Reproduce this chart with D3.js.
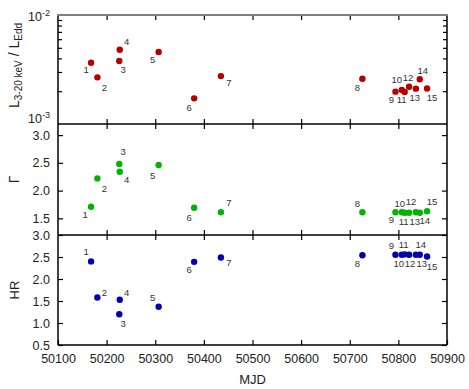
<!DOCTYPE html>
<html><head><meta charset="utf-8">
<script src="https://cdn.jsdelivr.net/npm/d3@7"></script>
<style>
html,body{margin:0;padding:0;background:#fff;}
svg{display:block;font-family:"Liberation Sans",Arial,sans-serif;}
</style></head>
<body>
<svg id="chart" width="469" height="389"></svg>
<script>
// ---- data ----
const pointIds = ["1","2","3","4","5","6","7","8","9","10","11","12","13","14","15"];
const mjd   = [50168, 50181, 50226, 50227, 50307, 50380, 50435, 50726, 50794, 50807, 50813, 50822, 50836, 50844, 50859];
const lum   = [3.65e-3, 2.68e-3, 3.79e-3, 4.80e-3, 4.58e-3, 1.72e-3, 2.75e-3, 2.60e-3, 1.98e-3, 2.05e-3, 1.97e-3, 2.20e-3, 2.11e-3, 2.57e-3, 2.12e-3];
const gamma = [1.71, 2.22, 2.48, 2.34, 2.46, 1.69, 1.61, 1.61, 1.61, 1.61, 1.60, 1.60, 1.61, 1.60, 1.63];
const hr    = [2.40, 1.58, 1.20, 1.53, 1.37, 2.39, 2.49, 2.54, 2.55, 2.55, 2.56, 2.55, 2.55, 2.55, 2.51];
const xTicks = [50100, 50200, 50300, 50400, 50500, 50600, 50700, 50800, 50900];
const lumMajor = [1e-3, 1e-2];
const lumMinor = [2e-3,3e-3,4e-3,5e-3,6e-3,7e-3,8e-3,9e-3];
const gammaTicks = [1.5, 2.0, 2.5, 3.0];
const hrTicks = [0.5, 1.0, 1.5, 2.0, 2.5, 3.0];

// label placement (dx, dy) relative to each point, per panel
const lumOff = [[-5,7],[7,10],[4,9],[7,-8],[-6,8],[-5,9],[8,7],[-5,9],[-4,8],[-5,-10],[-3,8],[-1,-9],[-1,9],[3,-9],[5,9]];
const gamOff = [[-6,8],[7,10],[4,-12],[7,8],[-6,11],[-5,10],[8,-10],[-5,-9],[-4,7],[-2,-9],[-1,9],[2,-11],[-1,9],[5,8],[5,-9]];
const hrOff  = [[-5,-10],[7,-5],[4,9],[7,-7],[-6,-9],[-5,8],[8,5],[-5,8],[-4,-9],[-3,9],[-1,-10],[1,9],[6,9],[1,-10],[5,10]];

// ---- layout ----
const L = 58, R = 447;
const panels = [
  {top: 15,  bottom: 124},
  {top: 124, bottom: 235},
  {top: 235, bottom: 345}
];
const svg = d3.select("#chart");
const x = d3.scaleLinear().domain([50100, 50900]).range([L, R]);
const yL = d3.scaleLog().domain([1e-3, 1e-2]).range([panels[0].bottom, panels[0].top]);
const yG = d3.scaleLinear().domain([1.2, 3.2]).range([panels[1].bottom, panels[1].top]);
const yH = d3.scaleLinear().domain([0.5, 3.0]).range([panels[2].bottom, panels[2].top]);

function styleAxis(g){
  g.select(".domain").remove();
  g.selectAll(".tick line").attr("stroke","#000").attr("stroke-width",1.2);
  g.selectAll(".tick text").attr("fill","#222").style("font-size","12.5px").style("font-family","'Liberation Sans',Arial,sans-serif");
}

// x ticks on every panel top & bottom
panels.forEach((p,i)=>{
  svg.append("g").attr("transform",`translate(0,${p.top})`)
    .call(d3.axisTop(x).tickValues(xTicks.slice(1,-1)).tickSize(-5).tickFormat(""))
    .call(styleAxis);
  const bAxis = d3.axisBottom(x).tickValues(i===2 ? xTicks : xTicks.slice(1,-1)).tickSize(-5).tickPadding(9)
    .tickFormat(i===2 ? d3.format("d") : "");
  svg.append("g").attr("transform",`translate(0,${p.bottom})`).call(bAxis).call(styleAxis);
});

// panel 1 y axes (log)
svg.append("g").attr("transform",`translate(${L},0)`)
  .call(d3.axisLeft(yL).tickValues(lumMinor).tickSize(-4).tickFormat("")).call(styleAxis);
svg.append("g").attr("transform",`translate(${R},0)`)
  .call(d3.axisRight(yL).tickValues(lumMinor).tickSize(-4).tickFormat("")).call(styleAxis);
lumMajor.forEach((v,i)=>{
  const t = svg.append("text").attr("x", L-8).attr("y", yL(v) + (i===0 ? -1 : 6))
    .attr("text-anchor","end").attr("fill","#222").style("font-size","12.5px");
  t.append("tspan").text("10");
  t.append("tspan").attr("dy",-5).style("font-size","9px").text(v===1e-3 ? "-3" : "-2");
});

// panel 2 & 3 y axes
[[yG,gammaTicks],[yH,hrTicks]].forEach(([ys,tv])=>{
  svg.append("g").attr("transform",`translate(${L},0)`)
    .call(d3.axisLeft(ys).tickValues(tv).tickSize(-5).tickPadding(8).tickFormat(d3.format(".1f"))).call(styleAxis);
  svg.append("g").attr("transform",`translate(${R},0)`)
    .call(d3.axisRight(ys).tickValues(tv).tickSize(-5).tickFormat("")).call(styleAxis);
});

// frames
panels.forEach((p,i)=>{
  svg.append("line").attr("x1",L).attr("x2",L).attr("y1",p.top).attr("y2",p.bottom).attr("stroke","#000").attr("stroke-width",1.5);
  svg.append("line").attr("x1",R).attr("x2",R).attr("y1",p.top).attr("y2",p.bottom).attr("stroke","#000").attr("stroke-width",1.5);
  svg.append("line").attr("x1",L).attr("x2",R).attr("y1",p.bottom).attr("y2",p.bottom).attr("stroke","#000").attr("stroke-width",1.5);
  if(i===0) svg.append("line").attr("x1",L-0.75).attr("x2",R+0.75).attr("y1",p.top).attr("y2",p.top).attr("stroke","#808080").attr("stroke-width",2);
});

// data points + labels
function drawSeries(vals, ys, color, off){
  const g = svg.append("g");
  g.selectAll("circle").data(vals).join("circle")
    .attr("cx",(d,i)=>x(mjd[i])).attr("cy",d=>ys(d)).attr("r",3.2).attr("fill",color);
  g.selectAll("text").data(vals).join("text")
    .attr("x",(d,i)=>x(mjd[i])+off[i][0]).attr("y",(d,i)=>ys(d)+off[i][1])
    .attr("dy","0.35em").attr("text-anchor","middle").attr("fill","#333")
    .style("font-size","9.5px").text((d,i)=>pointIds[i]);
}
drawSeries(lum, yL, "#b50000", lumOff);
drawSeries(gamma, yG, "#00b400", gamOff);
drawSeries(hr, yH, "#0000b0", hrOff);

// axis titles
const yt1 = svg.append("text").attr("transform",`translate(19,${(panels[0].top+panels[0].bottom)/2 - 4}) rotate(-90)`)
  .attr("text-anchor","middle").attr("fill","#222").style("font-size","14px");
yt1.append("tspan").text("L");
yt1.append("tspan").attr("dy",3).style("font-size","10px").text("3-20 keV");
yt1.append("tspan").attr("dy",-3).text(" / L");
yt1.append("tspan").attr("dy",3).style("font-size","10px").text("Edd");

svg.append("text").attr("transform",`translate(19,${(panels[1].top+panels[1].bottom)/2}) rotate(-90)`)
  .attr("text-anchor","middle").attr("fill","#222").style("font-size","14px").text("Γ");
svg.append("text").attr("transform",`translate(19,${(panels[2].top+panels[2].bottom)/2}) rotate(-90)`)
  .attr("text-anchor","middle").attr("fill","#222").style("font-size","13px").text("HR");
svg.append("text").attr("x",(L+R)/2).attr("y",384).attr("text-anchor","middle").attr("fill","#222")
  .style("font-size","13px").text("MJD");
</script>
</body></html>
